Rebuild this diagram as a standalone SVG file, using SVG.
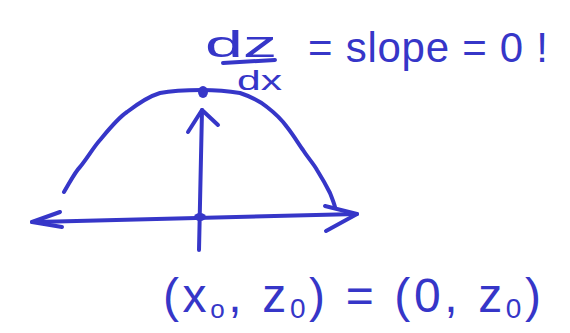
<svg xmlns="http://www.w3.org/2000/svg" width="570" height="333" viewBox="0 0 570 333">
<style>
.ink{fill:none;stroke:#3636c8;stroke-width:4;stroke-linecap:round;stroke-linejoin:round}
.dot{fill:#3636c8}
.t{fill:#3636c8;font-family:"Liberation Sans","DejaVu Sans",sans-serif}
</style>
<rect width="570" height="333" fill="#ffffff"/>
<g id="curve">
<path class="ink" d="M64,192 C70,182 75,172 80,167 C88,157 93,148 100,140 C110,128 118,118 127,112 C140,102 150,96 160,93 C175,90 190,90 202,90 C215,90 228,91 240,93 C252,97 260,101 267,107 C276,114 282,120 287,127 C294,136 298,143 303,150 C308,158 313,163 317,170 C322,178 326,185 330,193 C332,198 334,203 335,207"/>
</g>
<g id="connectors">
<path class="ink" d="M32,222 C120,220 200,217 357,214"/>
<path class="ink" d="M60,212 L32,222 L62,227"/>
<path class="ink" d="M325,206 L357,214 L326,231"/>
<path class="ink" d="M199,250 C200,200 201,150 202,110"/>
<path class="ink" d="M188,132 L202,110 L218,125"/>
</g>
<g id="points">
<ellipse class="dot" cx="203" cy="92" rx="5" ry="6"/>
<ellipse class="dot" cx="200" cy="217" rx="6" ry="4"/>
</g>
<g id="label-derivative">
<text class="t" x="205" y="57" font-size="36" textLength="72" lengthAdjust="spacingAndGlyphs">dz</text>
<path class="ink" d="M223,63 L275,60"/>
<text class="t" x="237" y="90" font-size="28" textLength="45" lengthAdjust="spacingAndGlyphs">dx</text>
<text class="t" x="308" y="62" font-size="42" textLength="240" lengthAdjust="spacing">= slope = 0 !</text>
</g>
<g id="label-point">
<text class="t" x="163" y="312" font-size="48" textLength="378" lengthAdjust="spacing">(x<tspan font-size="26" dy="6">o</tspan><tspan dy="-6">, z</tspan><tspan font-size="28" dy="6">0</tspan><tspan dy="-6">) = (0, z</tspan><tspan font-size="28" dy="6">0</tspan><tspan dy="-6">)</tspan></text>
</g>
</svg>
